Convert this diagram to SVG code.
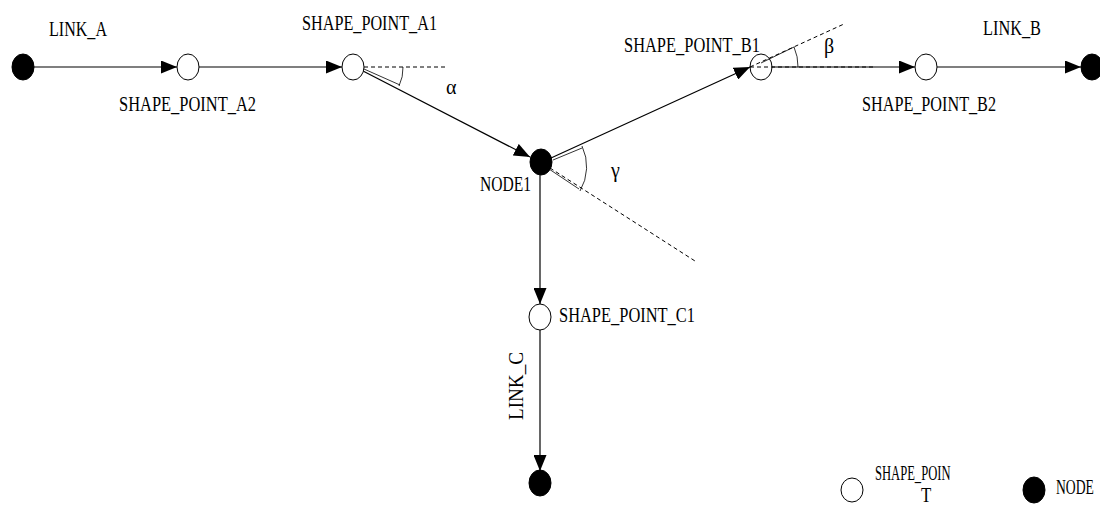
<svg xmlns="http://www.w3.org/2000/svg" width="1100" height="507" viewBox="0 0 1100 507">
<style>
.t{font-family:"Liberation Serif","DejaVu Serif",serif;font-size:21px;fill:#000}
.g{font-family:"Liberation Serif","DejaVu Serif",serif;font-size:20px;fill:#000}
.sp{fill:#fff;stroke:#000;stroke-width:1}
.nd{fill:#000;stroke:#000;stroke-width:1}
.ln{stroke:#000;stroke-width:1.2;fill:none}
.ds{stroke:#000;stroke-width:1;fill:none;stroke-dasharray:4 3}
.th{stroke:#000;stroke-width:0.8;fill:none}
</style>
<defs>
<marker id="ar" markerUnits="userSpaceOnUse" markerWidth="17" markerHeight="13" refX="16" refY="6.5" orient="auto">
<path d="M0,0 L16,6.5 L0,13 Z" fill="#000"/>
</marker>
</defs>
<g id="connectors">
<line class="ln" x1="34" y1="67" x2="177" y2="67" marker-end="url(#ar)"/>
<line class="ln" x1="199" y1="67" x2="342" y2="67" marker-end="url(#ar)"/>
<line class="ln" x1="363" y1="71" x2="530" y2="157" marker-end="url(#ar)"/>
<line class="ln" x1="551" y1="158" x2="750" y2="67" marker-end="url(#ar)"/>
<line class="ln" x1="772" y1="67" x2="915" y2="67" marker-end="url(#ar)"/>
<line class="ln" x1="937" y1="67" x2="1081" y2="67" marker-end="url(#ar)"/>
<line class="ln" x1="540" y1="175" x2="540" y2="304" marker-end="url(#ar)"/>
<line class="ln" x1="540" y1="330" x2="540" y2="471" marker-end="url(#ar)"/>
</g>
<g id="angles">
<line class="ds" x1="364" y1="67" x2="447" y2="67"/>
<line class="ds" x1="750" y1="67" x2="876" y2="67"/>
<line class="ds" x1="750" y1="67" x2="844" y2="24"/>
<line class="ds" x1="550" y1="168" x2="695" y2="261"/>
<line class="th" x1="364" y1="69" x2="400" y2="85"/>
<line class="th" x1="553" y1="160" x2="582" y2="148"/>
<line class="th" x1="549" y1="169" x2="579" y2="189"/>
<line class="th" x1="761" y1="63" x2="794" y2="47"/>
<path class="th" d="M403,67 A41,41 0 0 1 399,86"/>
<path class="th" d="M798,67 A48,48 0 0 0 794,47"/>
<path class="th" d="M582,146 A48,48 0 0 1 580,191"/>
<text class="g" x="446" y="94">α</text>
<text class="g" x="824" y="53">β</text>
<text class="g" x="611" y="177">γ</text>
</g>
<g id="link_a_start"><ellipse class="nd" cx="23" cy="67" rx="11" ry="13"/><text class="t" x="49" y="36" textLength="58" lengthAdjust="spacingAndGlyphs">LINK_A</text></g>
<g id="shape_point_a2"><ellipse class="sp" cx="188" cy="67" rx="11" ry="13"/><text class="t" x="119" y="111" textLength="137" lengthAdjust="spacingAndGlyphs">SHAPE_POINT_A2</text></g>
<g id="shape_point_a1"><ellipse class="sp" cx="353" cy="67" rx="11" ry="13"/><text class="t" x="302" y="30" textLength="135" lengthAdjust="spacingAndGlyphs">SHAPE_POINT_A1</text></g>
<g id="node1"><ellipse class="nd" cx="541" cy="162" rx="11" ry="13"/><text class="t" x="480" y="191" textLength="51" lengthAdjust="spacingAndGlyphs">NODE1</text></g>
<g id="shape_point_b1"><ellipse class="sp" cx="761" cy="67" rx="11" ry="13" fill-opacity="0"/><text class="t" x="624" y="52" textLength="136" lengthAdjust="spacingAndGlyphs">SHAPE_POINT_B1</text></g>
<g id="shape_point_b2"><ellipse class="sp" cx="926" cy="67" rx="11" ry="13"/><text class="t" x="862" y="111" textLength="134" lengthAdjust="spacingAndGlyphs">SHAPE_POINT_B2</text></g>
<g id="link_b_end"><ellipse class="nd" cx="1092" cy="67" rx="11" ry="13"/><text class="t" x="983" y="35" textLength="58" lengthAdjust="spacingAndGlyphs">LINK_B</text></g>
<g id="shape_point_c1"><ellipse class="sp" cx="540" cy="317" rx="11" ry="13"/><text class="t" x="559" y="322" textLength="136" lengthAdjust="spacingAndGlyphs">SHAPE_POINT_C1</text></g>
<g id="link_c_end"><ellipse class="nd" cx="540" cy="483" rx="11" ry="13"/><text class="t" transform="translate(523,420) rotate(-90)" x="0" y="0" textLength="68" lengthAdjust="spacingAndGlyphs">LINK_C</text></g>
<g id="legend_shape_point"><ellipse class="sp" cx="852" cy="490" rx="11" ry="12"/><text class="t" font-size="19" transform="translate(875,480) scale(0.6,1)">SHAPE_POIN</text><text class="t" font-size="18" transform="translate(921,502) scale(0.8,1)">T</text></g>
<g id="legend_node"><ellipse class="nd" cx="1034" cy="490" rx="11" ry="13"/><text class="t" transform="translate(1056,494) scale(0.65,1)">NODE</text></g>
</svg>
